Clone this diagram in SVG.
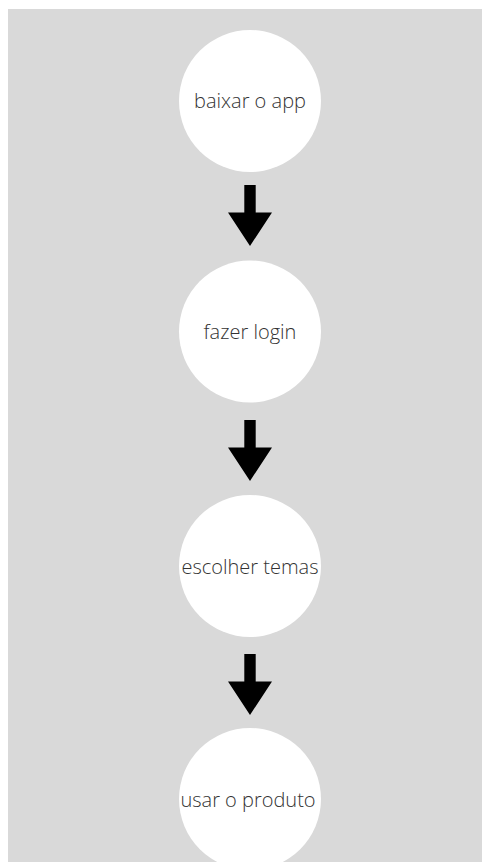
<svg xmlns="http://www.w3.org/2000/svg" width="483" height="862" viewBox="0 0 483 862">
<style>
.node{fill:#ffffff}
.lbl{font-family:"Open Sans","Noto Sans",sans-serif;font-weight:300;font-size:20px;fill:#333333;text-anchor:middle}
.arrow{fill:#000000}
</style>
<defs>
<polygon id="arr" points="-5.7,0 5.7,0 5.7,27.5 22,27.5 0,61 -22,27.5 -5.7,27.5"/>
</defs>
<rect x="8" y="9" width="474" height="853" fill="#d9d9d9"/>
<g id="n1"><circle class="node" cx="250" cy="101" r="71"/><text class="lbl" x="250" y="108">baixar o app</text></g>
<g id="n2"><circle class="node" cx="250" cy="331.5" r="71"/><text class="lbl" x="250" y="339">fazer login</text></g>
<g id="n3"><circle class="node" cx="250" cy="566" r="71"/><text class="lbl" x="250" y="574">escolher temas</text></g>
<g id="n4"><circle class="node" cx="250" cy="799" r="71"/><text class="lbl" x="248" y="806.5">usar o produto</text></g>
<g id="connectors">
<use href="#arr" class="arrow" x="250" y="185"/>
<use href="#arr" class="arrow" x="250" y="420"/>
<use href="#arr" class="arrow" x="250" y="654"/>
</g>
</svg>
